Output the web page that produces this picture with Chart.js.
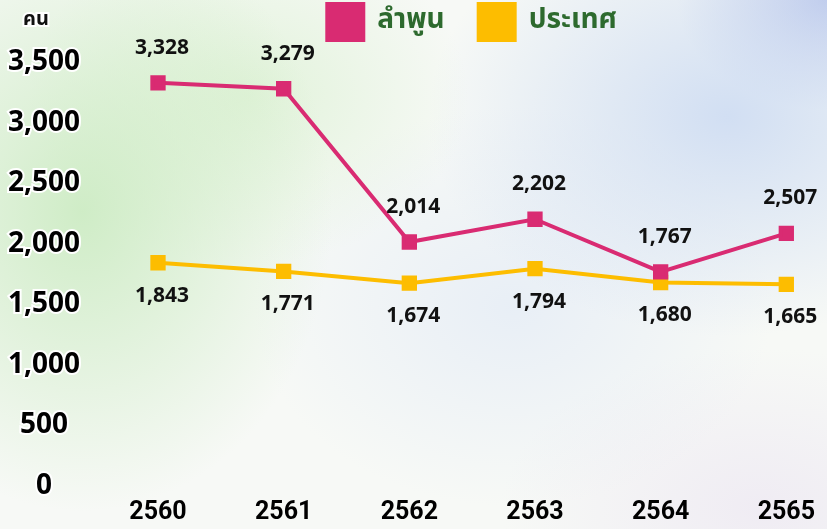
<!DOCTYPE html>
<html>
<head>
<meta charset="utf-8">
<script src="https://cdn.jsdelivr.net/npm/chart.js@4"></script>
<style>
  html, body { margin: 0; padding: 0; }
  body {
    width: 827px;
    height: 529px;
    overflow: hidden;
    background:
      radial-gradient(ellipse 250px 300px at 10% 40%, rgba(200, 234, 190, 0.85), rgba(200, 234, 190, 0) 100%),
      radial-gradient(ellipse 220px 170px at 30% 18%, rgba(216, 240, 206, 0.7), rgba(216, 240, 206, 0) 100%),
      radial-gradient(ellipse 300px 220px at 88% 22%, rgba(200, 216, 242, 0.8), rgba(200, 216, 242, 0) 100%),
      radial-gradient(ellipse 150px 110px at 100% 0%, rgba(184, 196, 234, 0.9), rgba(184, 196, 234, 0) 100%),
      radial-gradient(ellipse 260px 200px at 62% 58%, rgba(220, 230, 246, 0.55), rgba(220, 230, 246, 0) 100%),
      radial-gradient(ellipse 260px 160px at 92% 96%, rgba(236, 230, 242, 0.7), rgba(236, 230, 242, 0) 100%),
      #f7f9f6;
  }
  #wrap { position: relative; width: 827px; height: 529px; }
</style>
</head>
<body>
<div id="wrap"><canvas id="myChart" width="827" height="529"></canvas></div>
<script>
// years (พ.ศ.)
const years = ["2560", "2561", "2562", "2563", "2564", "2565"];

// ลำพูน: plotted values and printed values (last point sits lower than its printed value)
const lamphunValues = [3328, 3279, 2014, 2202, 1767, 2085];
const lamphunLabels = [3328, 3279, 2014, 2202, 1767, 2507];

// ประเทศ
const countryValues = [1843, 1771, 1674, 1794, 1680, 1665];
const countryLabels = [1843, 1771, 1674, 1794, 1680, 1665];

const seriesNames = ["ลำพูน", "ประเทศ"];
const yTicks = [0, 500, 1000, 1500, 2000, 2500, 3000, 3500];

const pink = "#d92b72";
const orange = "#fdbd00";

// draw the numbers above / below each point
const valueLabels = {
  id: "valueLabels",
  afterDatasetsDraw(chart) {
    const { ctx } = chart;
    const texts = [lamphunLabels, countryLabels];
    const shift = [-35, 33];
    ctx.save();
    ctx.font = "bold 21px 'Noto Sans', sans-serif";
    ctx.fillStyle = "#111";
    ctx.textAlign = "center";
    ctx.textBaseline = "middle";
    chart.data.datasets.forEach((ds, i) => {
      chart.getDatasetMeta(i).data.forEach((pt, j) => {
        const txt = texts[i][j].toLocaleString("en-US");
        const w = ctx.measureText(txt).width;
        const x = Math.min(pt.x + 4, chart.width - 3 - w / 2);
        ctx.fillText(txt, x, pt.y + shift[i]);
      });
    });
    ctx.restore();
  },
};

// unit "คน" above the y axis
const unitLabel = {
  id: "unitLabel",
  afterDraw(chart) {
    const { ctx } = chart;
    const y = chart.scales.y;
    ctx.save();
    ctx.font = "bold 20px 'Noto Sans Thai', 'Noto Sans', sans-serif";
    ctx.textAlign = "center";
    ctx.textBaseline = "middle";
    ctx.lineWidth = 4;
    ctx.strokeStyle = "#fff";
    ctx.fillStyle = "#111";
    ctx.strokeText("คน", y.left + 36, 21);
    ctx.fillText("คน", y.left + 36, 21);
    ctx.restore();
  },
};

const data = {
  labels: years,
  datasets: [
    {
      label: seriesNames[0],
      data: lamphunValues,
      borderColor: pink,
      backgroundColor: pink,
      borderWidth: 4,
      pointStyle: "rect",
      pointRadius: 8,
      pointHoverRadius: 8,
      tension: 0,
    },
    {
      label: seriesNames[1],
      data: countryValues,
      borderColor: orange,
      backgroundColor: orange,
      borderWidth: 4,
      pointStyle: "rect",
      pointRadius: 8,
      pointHoverRadius: 8,
      tension: 0,
    },
  ],
};

const config = {
  type: "line",
  data: data,
  plugins: [valueLabels, unitLabel],
  options: {
    responsive: false,
    animation: false,
    layout: { padding: { top: -30, right: 38, bottom: 0, left: 0 } },
    plugins: {
      tooltip: { enabled: false },
      legend: {
        position: "top",
        fullSize: false,
        labels: {
          boxWidth: 36,
          boxHeight: 36,
          padding: 34,
          color: "#2d6a2e",
          font: { family: "'Noto Sans Thai', 'Noto Sans', sans-serif", size: 28, weight: "bold" },
        },
      },
      // empty subtitle, only used as a gap between the legend and the plot
      subtitle: {
        display: true,
        text: " ",
        position: "top",
        fullSize: false,
        weight: 500,
        padding: 0,
        font: { size: 10 },
      },
    },
    scales: {
      x: {
        offset: false,
        grid: { display: false, drawTicks: false },
        border: { display: false },
        afterFit(scale) {
          scale.height = 43;
        },
        ticks: {
          color: "#000",
          padding: 12,
          maxRotation: 0,
          font: { family: "'Roboto', sans-serif", size: 25, weight: "bold" },
        },
      },
      y: {
        min: 0,
        max: 3500,
        grid: { display: false, drawTicks: false },
        border: { display: false },
        afterBuildTicks(scale) {
          scale.ticks = yTicks.map((v) => ({ value: v }));
        },
        afterFit(scale) {
          scale.width = 158;
          // keep the wide label gap from pushing the plot down
          scale.paddingTop = 16;
          scale.paddingBottom = 16;
        },
        ticks: {
          color: "#000",
          crossAlign: "center",
          padding: 78,
          textStrokeColor: "#fff",
          textStrokeWidth: 4,
          font: { family: "'Noto Sans', sans-serif", size: 28, weight: "bold" },
          callback: (v) => v.toLocaleString("en-US"),
        },
      },
    },
  },
};

const ctx = document.getElementById("myChart");
const myChart = new Chart(ctx, config);
</script>
</body>
</html>
